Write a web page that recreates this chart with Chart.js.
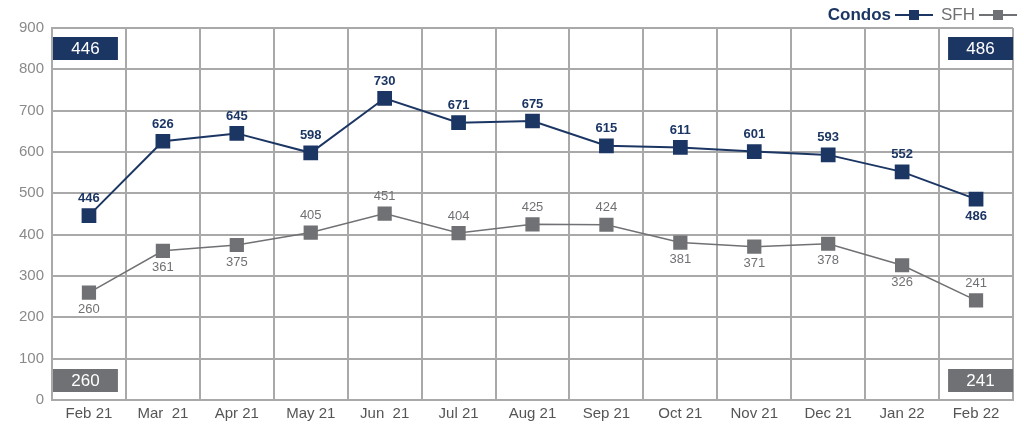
<!DOCTYPE html>
<html>
<head>
<meta charset="utf-8">
<script src="https://cdn.jsdelivr.net/npm/chart.js@4/dist/chart.umd.min.js"></script>
<style>
  html, body { margin: 0; padding: 0; background: #fff; }
  #wrap { width: 1024px; height: 431px; }
</style>
</head>
<body>
<div id="wrap"><canvas id="salesChart"></canvas></div>
<script>
const months = ['Feb 21', 'Mar  21', 'Apr 21', 'May 21', 'Jun  21', 'Jul 21', 'Aug 21',
                'Sep 21', 'Oct 21', 'Nov 21', 'Dec 21', 'Jan 22', 'Feb 22'];
const condos = [446, 626, 645, 598, 730, 671, 675, 615, 611, 601, 593, 552, 486];
const sfh = [260, 361, 375, 405, 451, 404, 425, 424, 381, 371, 378, 326, 241];
// where each value label sits: 'up' above the point, 'down' below it
const condosLabelPos = ['up', 'up', 'up', 'up', 'up', 'up', 'up', 'up', 'up', 'up', 'up', 'up', 'down'];
const sfhLabelPos = ['down', 'down', 'down', 'up', 'up', 'up', 'up', 'up', 'down', 'down', 'down', 'down', 'up'];

const NAVY = '#1c3664';
const GREY = '#707174';

// value labels next to each point
const pointLabels = {
    id: 'pointLabels',
    afterDatasetsDraw(chart) {
        const ctx = chart.ctx;
        ctx.save();
        ctx.textAlign = 'center';
        ctx.textBaseline = 'middle';
        chart.data.datasets.forEach((ds, i) => {
            const meta = chart.getDatasetMeta(i);
            const pos = i === 0 ? condosLabelPos : sfhLabelPos;
            ctx.fillStyle = i === 0 ? NAVY : GREY;
            ctx.font = (i === 0 ? '600 ' : '') + '13px "Liberation Sans", Arial, sans-serif';
            meta.data.forEach((pt, j) => {
                const dy = pos[j] === 'up' ? -17 : 17;
                ctx.fillText(ds.data[j], pt.x, pt.y + dy);
            });
        });
        ctx.restore();
    }
};

// first / last value boxes in the corner cells
const cornerBoxes = {
    id: 'cornerBoxes',
    afterDraw(chart) {
        const ctx = chart.ctx;
        const area = chart.chartArea;
        const cell = (area.right - area.left) / months.length;
        const w = cell - 9, h = 23;
        const boxes = [
            [area.left + 1, area.top + 9, NAVY, condos[0]],
            [area.right - w, area.top + 9, NAVY, condos[condos.length - 1]],
            [area.left + 1, area.bottom - 31, GREY, sfh[0]],
            [area.right - w, area.bottom - 31, GREY, sfh[sfh.length - 1]]
        ];
        ctx.save();
        ctx.font = '500 17px "Liberation Sans", Arial, sans-serif';
        ctx.textAlign = 'center';
        ctx.textBaseline = 'middle';
        boxes.forEach(([bx, by, col, val]) => {
            ctx.fillStyle = col;
            ctx.fillRect(bx, by, w, h);
            ctx.fillStyle = '#fff';
            ctx.fillText(val, bx + w / 2, by + h / 2 + 1);
        });
        ctx.restore();
    }
};

// legend: text first, then a line with a square marker
const textLegend = {
    id: 'textLegend',
    afterDraw(chart) {
        const ctx = chart.ctx;
        const right = chart.chartArea.right;
        const y = 15;
        ctx.save();
        ctx.textBaseline = 'middle';
        const items = [
            ['Condos', NAVY, 'bold '],
            ['SFH', GREY, '']
        ];
        const marker = 38, gap = 4;
        let total = 0;
        items.forEach(([t, c, w]) => {
            ctx.font = w + '17px "Liberation Sans", Arial, sans-serif';
            total += ctx.measureText(t).width + gap + marker + gap;
        });
        let cx = right - total + gap;
        items.forEach(([t, c, w]) => {
            ctx.font = w + '17px "Liberation Sans", Arial, sans-serif';
            ctx.fillStyle = c;
            ctx.fillText(t, cx, y);
            cx += ctx.measureText(t).width + gap;
            ctx.strokeStyle = c;
            ctx.lineWidth = 2;
            ctx.beginPath();
            ctx.moveTo(cx, y);
            ctx.lineTo(cx + marker, y);
            ctx.stroke();
            ctx.fillRect(cx + marker / 2 - 5, y - 5, 10, 10);
            cx += marker + gap * 2;
        });
        ctx.restore();
    }
};

const ctx = document.getElementById('salesChart').getContext('2d');

new Chart(ctx, {
    type: 'line',
    data: {
        labels: months,
        datasets: [{
            label: 'Condos',
            data: condos,
            borderColor: NAVY,
            backgroundColor: NAVY,
            borderWidth: 2,
            pointStyle: 'rect',
            pointRadius: 9,
            pointHoverRadius: 9,
            tension: 0
        }, {
            label: 'SFH',
            data: sfh,
            borderColor: GREY,
            backgroundColor: GREY,
            borderWidth: 1.5,
            pointStyle: 'rect',
            pointRadius: 9,
            pointHoverRadius: 9,
            tension: 0
        }]
    },
    options: {
        responsive: true,
        maintainAspectRatio: false,
        animation: false,
        layout: {
            padding: { top: 28, right: 2, left: 0, bottom: 3 }
        },
        plugins: {
            legend: { display: false },
            tooltip: { enabled: false }
        },
        scales: {
            x: {
                offset: true,
                grid: {
                    offset: true,
                    color: '#a9a9a9',
                    lineWidth: 2,
                    drawTicks: false
                },
                border: { color: '#a9a9a9', width: 2 },
                ticks: {
                    color: '#555',
                    padding: 5,
                    maxRotation: 0,
                    font: { family: '"Liberation Sans", Arial, sans-serif', size: 15, weight: '500' }
                }
            },
            y: {
                min: 0,
                max: 900,
                grid: {
                    color: '#a9a9a9',
                    lineWidth: 2,
                    drawTicks: false
                },
                border: { color: '#a9a9a9', width: 2 },
                ticks: {
                    stepSize: 100,
                    color: '#8a8a8a',
                    padding: 8,
                    font: { family: '"Liberation Sans", Arial, sans-serif', size: 15 }
                },
                afterFit(scale) { scale.width = 52; }
            }
        }
    },
    plugins: [pointLabels, cornerBoxes, textLegend]
});
</script>
</body>
</html>
